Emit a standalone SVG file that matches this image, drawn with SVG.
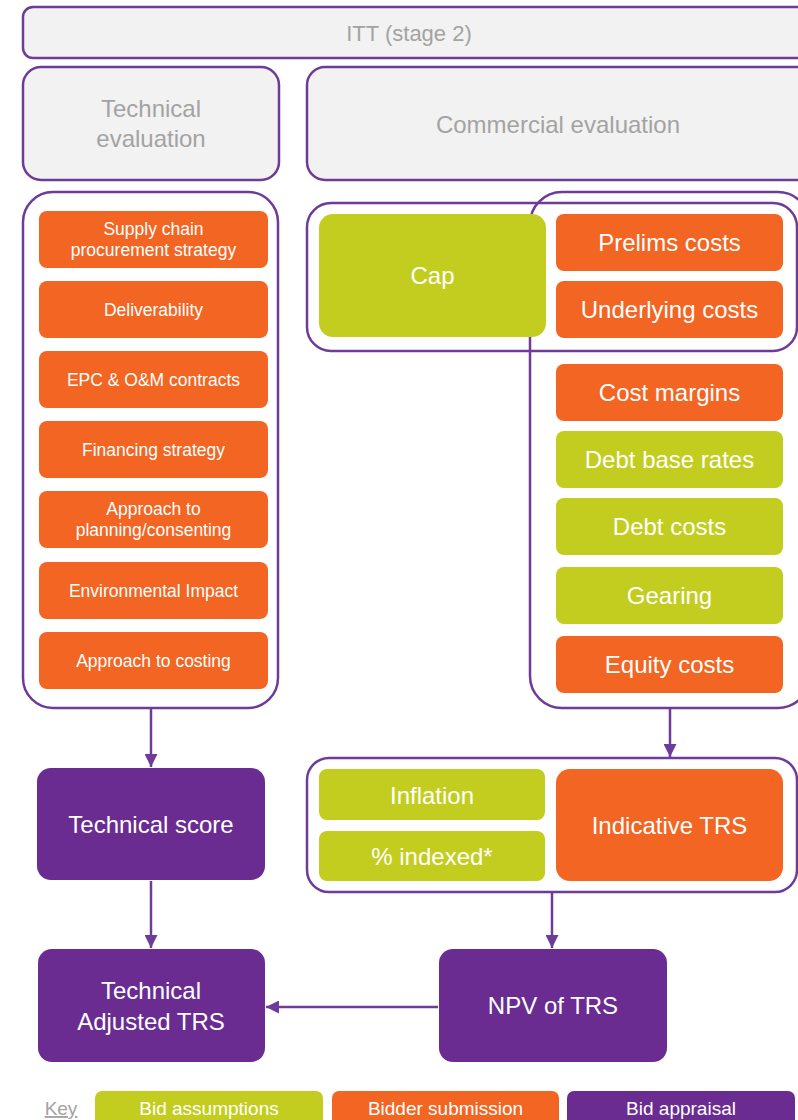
<svg xmlns="http://www.w3.org/2000/svg" width="798" height="1120" viewBox="0 0 798 1120">
<defs>
<style>
text{font-family:"Liberation Sans",Arial,sans-serif;text-anchor:middle}
.hdr{fill:#F2F2F2;stroke:#6E3C98;stroke-width:2.5}
.grp{fill:none;stroke:#6E3C98;stroke-width:2.5}
.or{fill:#F26522}
.gr{fill:#C3CD1F}
.pu{fill:#6A2C90}
.gt{fill:#A3A3A3;font-size:24px}
.wt{fill:#FFFFFF;font-size:24px}
.ws{fill:#FFFFFF;font-size:17.5px}
.wk{fill:#FFFFFF;font-size:19px}
.con{stroke:#6E3C98;stroke-width:2.5;fill:none;marker-end:url(#ah)}
</style>
<marker id="ah" viewBox="0 0 10 10" refX="10" refY="5" markerWidth="5.2" markerHeight="5.2" markerUnits="strokeWidth" orient="auto">
<path d="M0,0 L10,5 L0,10 Z" fill="#6E3C98"/>
</marker>
</defs>
<rect width="798" height="1120" fill="#FFFFFF"/>

<g id="itt"><rect class="hdr" x="23" y="7" width="795" height="51" rx="10"/><text class="gt" x="409" y="41" style="font-size:22px">ITT (stage 2)</text></g>
<g id="tech-eval"><rect class="hdr" x="23" y="67" width="256" height="113" rx="18"/><text class="gt" x="151" y="117">Technical</text><text class="gt" x="151" y="147">evaluation</text></g>
<g id="comm-eval"><rect class="hdr" x="307" y="67" width="510" height="113" rx="18"/><text class="gt" x="558" y="133">Commercial evaluation</text></g>

<g id="tech-group"><rect class="grp" x="23" y="192" width="255" height="516" rx="30"/></g>
<g id="supply"><rect class="or" x="39" y="211" width="229" height="57" rx="8"/><text class="ws" x="153.5" y="235">Supply chain</text><text class="ws" x="153.5" y="256">procurement strategy</text></g>
<g id="deliver"><rect class="or" x="39" y="281" width="229" height="57" rx="8"/><text class="ws" x="153.5" y="316">Deliverability</text></g>
<g id="epc"><rect class="or" x="39" y="351" width="229" height="57" rx="8"/><text class="ws" x="153.5" y="386">EPC &amp; O&amp;M contracts</text></g>
<g id="financing"><rect class="or" x="39" y="421" width="229" height="57" rx="8"/><text class="ws" x="153.5" y="456">Financing strategy</text></g>
<g id="planning"><rect class="or" x="39" y="491" width="229" height="57" rx="8"/><text class="ws" x="153.5" y="515">Approach to</text><text class="ws" x="153.5" y="536">planning/consenting</text></g>
<g id="environment"><rect class="or" x="39" y="562" width="229" height="57" rx="8"/><text class="ws" x="153.5" y="597">Environmental Impact</text></g>
<g id="costing"><rect class="or" x="39" y="632" width="229" height="57" rx="8"/><text class="ws" x="153.5" y="667">Approach to costing</text></g>

<g id="cap-group"><rect class="grp" x="307" y="203" width="490" height="148" rx="24"/></g>
<g id="cost-group"><rect class="grp" x="530" y="192" width="280" height="516" rx="32"/></g>
<g id="cap"><rect class="gr" x="319" y="214" width="227" height="123" rx="14"/><text class="wt" x="432.5" y="284">Cap</text></g>
<g id="prelims"><rect class="or" x="556" y="214" width="227" height="57" rx="8"/><text class="wt" x="669.5" y="251">Prelims costs</text></g>
<g id="underlying"><rect class="or" x="556" y="281" width="227" height="57" rx="8"/><text class="wt" x="669.5" y="318">Underlying costs</text></g>
<g id="margins"><rect class="or" x="556" y="364" width="227" height="57" rx="8"/><text class="wt" x="669.5" y="401">Cost margins</text></g>
<g id="debt-base"><rect class="gr" x="556" y="431" width="227" height="57" rx="8"/><text class="wt" x="669.5" y="468">Debt base rates</text></g>
<g id="debt-costs"><rect class="gr" x="556" y="498" width="227" height="57" rx="8"/><text class="wt" x="669.5" y="535">Debt costs</text></g>
<g id="gearing"><rect class="gr" x="556" y="567" width="227" height="57" rx="8"/><text class="wt" x="669.5" y="604">Gearing</text></g>
<g id="equity"><rect class="or" x="556" y="636" width="227" height="57" rx="8"/><text class="wt" x="669.5" y="673">Equity costs</text></g>

<g id="tech-score"><rect class="pu" x="37" y="768" width="228" height="112" rx="14"/><text class="wt" x="151" y="833">Technical score</text></g>
<g id="trs-group"><rect class="grp" x="307" y="758" width="490" height="134" rx="22"/></g>
<g id="inflation"><rect class="gr" x="319" y="769" width="226" height="51" rx="8"/><text class="wt" x="432" y="804">Inflation</text></g>
<g id="indexed"><rect class="gr" x="319" y="831" width="226" height="50" rx="8"/><text class="wt" x="432" y="865">% indexed*</text></g>
<g id="indicative"><rect class="or" x="556" y="769" width="227" height="112" rx="14"/><text class="wt" x="669.5" y="834">Indicative TRS</text></g>

<g id="adjusted"><rect class="pu" x="38" y="949" width="227" height="113" rx="14"/><text class="wt" x="151" y="999">Technical</text><text class="wt" x="151" y="1030">Adjusted TRS</text></g>
<g id="npv"><rect class="pu" x="439" y="949" width="228" height="113" rx="14"/><text class="wt" x="553" y="1014">NPV of TRS</text></g>

<g id="connectors">
<line class="con" x1="151" y1="709" x2="151" y2="767"/>
<line class="con" x1="670" y1="709" x2="670" y2="757"/>
<line class="con" x1="151" y1="881" x2="151" y2="948"/>
<line class="con" x1="552" y1="893" x2="552" y2="948"/>
<line class="con" x1="438" y1="1007" x2="266" y2="1007"/>
</g>

<g id="key">
<text x="61" y="1115" style="fill:#A3A3A3;font-size:19px;text-decoration:underline">Key</text>
<rect class="gr" x="95" y="1091" width="228" height="40" rx="7"/><text class="wk" x="209" y="1115">Bid assumptions</text>
<rect class="or" x="332" y="1091" width="227" height="40" rx="7"/><text class="wk" x="445.5" y="1115">Bidder submission</text>
<rect class="pu" x="567" y="1091" width="228" height="40" rx="7"/><text class="wk" x="681" y="1115">Bid appraisal</text>
</g>
</svg>
